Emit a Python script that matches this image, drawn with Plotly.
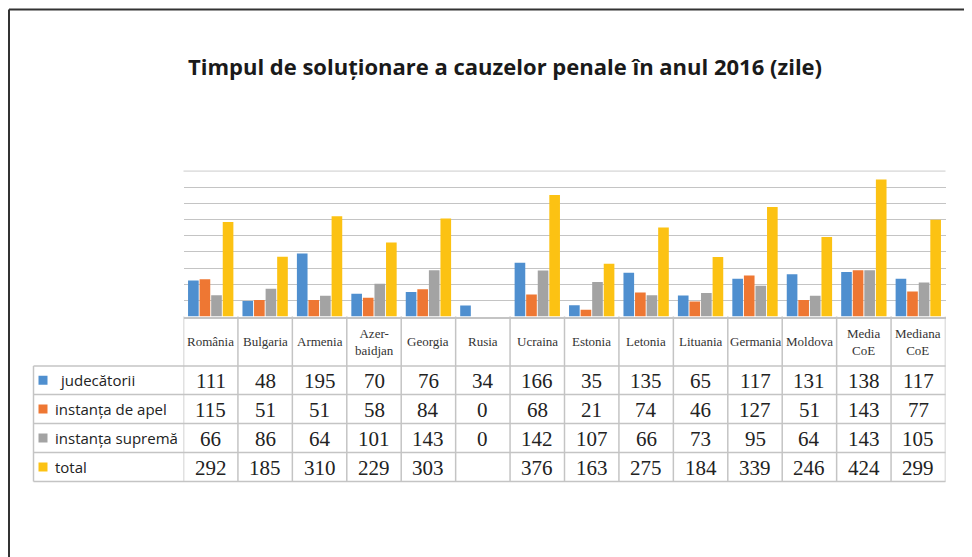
import plotly.graph_objects as go

# the page has an 8px body margin; the figure is sized to fill the rest of the window
OFF = 8
W, H = 972 - OFF, 557 - OFF

categories = ["România", "Bulgaria", "Armenia", "Azerbaidjan", "Georgia", "Rusia", "Ucraina",
              "Estonia", "Letonia", "Lituania", "Germania", "Moldova", "Media CoE", "Mediana CoE"]
header_labels = ["România", "Bulgaria", "Armenia", "Azer-<br>baidjan", "Georgia", "Rusia", "Ucraina",
                 "Estonia", "Letonia", "Lituania", "Germania", "Moldova", "Media<br>CoE", "Mediana<br>CoE"]
series_names = ["judecătorii", "instanța de apel", "instanța supremă", "total"]
judecatorii = [111, 48, 195, 70, 76, 34, 166, 35, 135, 65, 117, 131, 138, 117]
instanta_apel = [115, 51, 51, 58, 84, 0, 68, 21, 74, 46, 127, 51, 143, 77]
instanta_suprema = [66, 86, 64, 101, 143, 0, 142, 107, 66, 73, 95, 64, 143, 105]
total = [292, 185, 310, 229, 303, None, 376, 163, 275, 184, 339, 246, 424, 299]
series_values = [judecatorii, instanta_apel, instanta_suprema, total]
colors = ["#4F8FCF", "#EE7733", "#A3A3A3", "#FCC213"]
title_text = "Timpul de soluționare a cauzelor penale în anul 2016 (zile)"
y_top_value = 450


def px(x):
    return (x - OFF) / W


def py(y):
    return 1 - (y - OFF) / H


fig = go.Figure()
for name, vals, col in zip(series_names, series_values, colors):
    fig.add_trace(go.Bar(x=categories, y=vals, name=name, marker=dict(color=col, line=dict(width=0)),
                         showlegend=False, hoverinfo="x+y+name"))

# table geometry (page pixels)
plot_left, plot_right = 183.5, 945.5
plot_bottom = 316.5
y_max = 452
plot_top = plot_bottom - y_max * (145.5 / 450)
row_lines = [366, 394.5, 423.5, 452.5, 481.5]
label_left = 33.5
grid_col = "#C4C4C4"

shapes = []
# top gridline (value 450)
shapes.append(dict(type="line", xref="paper", yref="y", x0=px(plot_left), x1=px(plot_right),
                   y0=y_top_value, y1=y_top_value, line=dict(color=grid_col, width=1), layer="below"))
# outer frame
shapes.append(dict(type="line", xref="paper", yref="paper", x0=px(9), x1=1, y0=py(9.5), y1=py(9.5),
                   line=dict(color="#333333", width=2)))
shapes.append(dict(type="line", xref="paper", yref="paper", x0=px(9), x1=px(9), y0=py(9.5), y1=0,
                   line=dict(color="#333333", width=2)))
# horizontal table lines
for yv in row_lines:
    shapes.append(dict(type="line", xref="paper", yref="paper", x0=px(label_left), x1=px(plot_right),
                       y0=py(yv), y1=py(yv), line=dict(color=grid_col, width=1.5)))
# vertical table lines at category boundaries
for i in range(len(categories) + 1):
    shapes.append(dict(type="line", xref="x", yref="paper", x0=i - 0.5, x1=i - 0.5,
                       y0=py(plot_bottom), y1=py(row_lines[-1]), line=dict(color=grid_col, width=1.5)))
shapes.append(dict(type="line", xref="paper", yref="paper", x0=px(label_left), x1=px(label_left),
                   y0=py(row_lines[0]), y1=py(row_lines[-1]), line=dict(color=grid_col, width=1.5)))

annotations = []
# header labels
for cat, lab in zip(categories, header_labels):
    annotations.append(dict(x=cat, xref="x", y=py(341.5), yref="paper", text=lab, showarrow=False,
                            font=dict(family="Liberation Serif", size=13, color="#333333"),
                            xanchor="center", yanchor="middle"))
# rows
row_centers = [(row_lines[k] + row_lines[k + 1]) / 2 for k in range(4)]
label_x = [58, 53, 53, 53]
for k, (name, vals, col) in enumerate(zip(series_names, series_values, colors)):
    yc = row_centers[k]
    shapes.append(dict(type="rect", xref="paper", yref="paper", x0=px(38.5), x1=px(47.5),
                       y0=py(yc + 4.5), y1=py(yc - 4.5), fillcolor=col, line=dict(width=0)))
    annotations.append(dict(x=px(label_x[k]), xref="paper", y=py(yc), yref="paper", text=name,
                            showarrow=False, xanchor="left", yanchor="middle",
                            font=dict(family="Open Sans", size=15, color="#222222")))
    for cat, v in zip(categories, vals):
        if v is None:
            continue
        annotations.append(dict(x=cat, xref="x", y=py(yc + 1), yref="paper", text=str(v), showarrow=False,
                                xanchor="center", yanchor="middle",
                                font=dict(family="Liberation Serif", size=21, color="#222222")))

fig.update_layout(
    width=W, height=H,
    margin=dict(l=0, r=0, t=0, b=0),
    paper_bgcolor="white", plot_bgcolor="white",
    barmode="group", bargap=0.15, bargroupgap=0.08,
    title=dict(text="<b>" + title_text + "</b>", x=px(505), xanchor="center", y=py(67), yanchor="middle",
               font=dict(family="Open Sans", size=22, color="#1A1A1A")),
    xaxis=dict(domain=[px(plot_left), px(plot_right)], range=[-0.5, 13.5], showticklabels=False,
               showgrid=False, zeroline=False, showline=True, linecolor=grid_col, linewidth=1.5, ticks=""),
    yaxis=dict(domain=[py(plot_bottom), py(plot_top)], range=[0, y_max], dtick=50, showticklabels=False,
               showgrid=True, gridcolor="#C4C4C4", gridwidth=1, zeroline=False, showline=False),
    shapes=shapes, annotations=annotations,
)

fig.write_html("out.html")
